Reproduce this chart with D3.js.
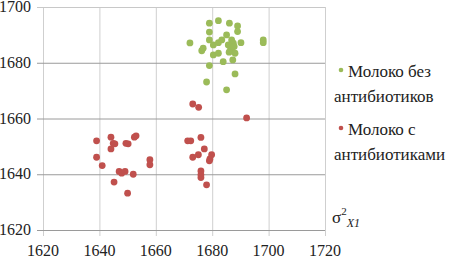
<!DOCTYPE html>
<html>
<head>
<meta charset="utf-8">
<script src="https://cdn.jsdelivr.net/npm/d3@7"></script>
<style>
  html, body { margin: 0; padding: 0; background: #fff; }
  svg { display: block; }
  svg text { font-family: "Liberation Serif", "DejaVu Serif", "Times New Roman", serif; }
</style>
</head>
<body>
<div id="chart"></div>
<script>
// series: milk without antibiotics (green)
const greenX = [1672.1, 1676.3, 1676.8, 1679.0, 1682.2, 1686.1, 1689.0, 1689.0, 1679.0, 1679.0,
  1680.4, 1682.2, 1683.4, 1685.1, 1686.9, 1685.7, 1687.5, 1690.2, 1698.1, 1698.1,
  1680.4, 1682.2, 1686.9, 1688.1, 1687.3, 1683.9, 1679.0, 1688.1, 1678.0, 1685.1,
  1686.5, 1686.0, 1687.8];
const greenY = [1687.1, 1684.3, 1685.2, 1694.2, 1695.1, 1694.2, 1693.2, 1691.2, 1691.0, 1688.2,
  1686.4, 1687.2, 1688.2, 1690.0, 1688.2, 1686.4, 1687.0, 1687.2, 1688.2, 1687.2,
  1682.8, 1683.4, 1684.6, 1683.4, 1681.0, 1680.4, 1679.0, 1676.0, 1673.1, 1670.3,
  1685.5, 1683.8, 1685.8];

// series: milk with antibiotics (red)
const redX = [1639.0, 1639.0, 1641.0, 1644.1, 1644.9, 1644.1, 1645.5, 1649.4, 1650.2, 1652.4,
  1653.0, 1647.0, 1647.9, 1649.1, 1652.0, 1645.2, 1650.0, 1657.9, 1657.9,
  1671.3, 1672.4, 1676.0, 1677.2, 1675.1, 1673.1, 1679.8, 1679.2, 1679.0, 1676.0,
  1676.0, 1676.0, 1678.0, 1673.1, 1675.2, 1692.2];
const redY = [1652.0, 1646.1, 1643.1, 1653.3, 1651.1, 1649.1, 1650.9, 1651.1, 1650.9, 1653.3,
  1653.8, 1641.0, 1640.4, 1641.0, 1640.0, 1637.2, 1633.2, 1645.2, 1643.4,
  1652.0, 1652.0, 1653.2, 1649.1, 1647.0, 1646.1, 1647.0, 1645.5, 1644.8, 1641.2,
  1639.8, 1638.8, 1636.2, 1665.2, 1664.0, 1660.2];

const xTicks = [1620, 1640, 1660, 1680, 1700, 1720];
const yTicks = [1620, 1640, 1660, 1680, 1700];

const seriesNames = ['Молоко без', 'антибиотиков', 'Молоко с', 'антибиотиками'];
const greenColor = '#9bbb59';
const redColor = '#c0504d';
const serif = '"Liberation Serif", "DejaVu Serif", "Times New Roman", serif';

const width = 467, height = 261;
const svg = d3.select('#chart').append('svg')
  .attr('width', width)
  .attr('height', height)
  .attr('font-family', serif);

const x = d3.scaleLinear().domain([1620, 1720]).range([43, 325]);
const y = d3.scaleLinear().domain([1620, 1700]).range([230, 7]);

// vertical gridlines (lighter), with small ticks below the plot
svg.append('g')
  .attr('transform', 'translate(0,230)')
  .call(d3.axisBottom(x).tickValues(xTicks).tickSize(-223).tickSizeOuter(0).tickFormat(''))
  .call(g => g.select('.domain').remove())
  .call(g => g.selectAll('.tick line').attr('stroke', '#cfcfcf').attr('y2', 6).attr('y1', -223));

// horizontal gridlines (darker), with small ticks on the left
svg.append('g')
  .attr('transform', 'translate(43,0)')
  .call(d3.axisLeft(y).tickValues(yTicks).tickSize(-282).tickSizeOuter(0).tickFormat(''))
  .call(g => g.select('.domain').remove())
  .call(g => g.selectAll('.tick line')
    .attr('x1', -6).attr('x2', 282)
    .attr('stroke', d => d === 1700 ? '#c8c8c8' : '#9a9a9a'));

// tick labels
svg.append('g').selectAll('text').data(xTicks).join('text')
  .attr('x', d => x(d))
  .attr('y', 256)
  .attr('text-anchor', 'middle')
  .attr('font-family', serif)
  .attr('font-size', 16)
  .attr('fill', '#222')
  .text(d => d);

svg.append('g').selectAll('text').data(yTicks).join('text')
  .attr('x', 31)
  .attr('y', d => y(d) + 5)
  .attr('text-anchor', 'end')
  .attr('font-family', serif)
  .attr('font-size', 16)
  .attr('fill', '#222')
  .text(d => d);

// points
const dots = svg.append('g');
dots.selectAll('.g').data(d3.range(greenX.length)).join('circle')
  .attr('cx', i => x(greenX[i]))
  .attr('cy', i => y(greenY[i]))
  .attr('r', 3.4)
  .attr('fill', greenColor);

dots.selectAll('.r').data(d3.range(redX.length)).join('circle')
  .attr('cx', i => x(redX[i]))
  .attr('cy', i => y(redY[i]))
  .attr('r', 3.4)
  .attr('fill', redColor);

// legend
const legend = svg.append('g').attr('font-size', 17).attr('font-family', serif).attr('fill', '#222');
legend.append('circle').attr('cx', 341).attr('cy', 70).attr('r', 2.3).attr('fill', greenColor);
legend.append('text').attr('x', 348).attr('y', 77).text(seriesNames[0]);
legend.append('text').attr('x', 334).attr('y', 102).text(seriesNames[1]);
legend.append('circle').attr('cx', 341).attr('cy', 128).attr('r', 2.3).attr('fill', redColor);
legend.append('text').attr('x', 348).attr('y', 135).text(seriesNames[2]);
legend.append('text').attr('x', 334).attr('y', 160).text(seriesNames[3]);

// axis title σ²X1
const title = svg.append('text').attr('x', 332).attr('y', 223)
  .attr('font-family', serif).attr('font-size', 17).attr('fill', '#222');
title.append('tspan').text('σ');
title.append('tspan').attr('dy', -8).attr('font-size', 11).text('2');
title.append('tspan').attr('dy', 12).attr('font-size', 12).attr('font-style', 'italic').text('X1');
</script>
</body>
</html>
